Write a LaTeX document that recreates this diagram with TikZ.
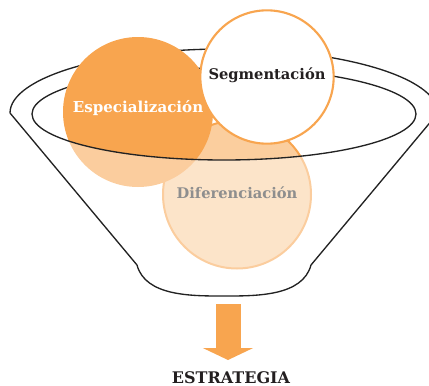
\documentclass[tikz,border=0pt]{standalone}
\usepackage{fontspec}
\setmainfont{DejaVu Serif}
\usetikzlibrary{arrows.meta}
\definecolor{orangeA}{HTML}{F8A54F}
\definecolor{orangeL}{HTML}{FBCE9E}
\definecolor{grayT}{HTML}{8E8E8E}
\definecolor{inkT}{HTML}{231F20}
\definecolor{lineK}{HTML}{222222}
\begin{document}
\begin{tikzpicture}[x=0.75pt,y=-0.75pt,
  funnelline/.style={draw=lineK, line width=1pt},
  ball/.style={circle, inner sep=0pt, outer sep=0pt},
  lbl/.style={font=\bfseries\fontsize{11}{13}\selectfont, inner sep=0pt}]
\useasboundingbox (0,0) rectangle (429,386);
\clip (0,0) rectangle (429,386);
% back rims
\draw[funnelline] (10,113) arc[start angle=180, end angle=360, x radius=214, y radius=64];
\draw[funnelline] (32,114) arc[start angle=180, end angle=360, x radius=192, y radius=46];
% circles
\node[ball, fill=orangeL, draw=orangeA, line width=1.5pt, minimum size=111pt] (dif) at (237,194.5) {};
\node[ball, fill=orangeA, minimum size=112.5pt] (esp) at (138,112) {};
% translucent front of the funnel
\fill[white, opacity=0.45] (32,114) arc[start angle=180, end angle=0, x radius=192, y radius=46] -- (430,300) -- (0,300) -- (0,114) -- cycle;
\node[ball, fill=white, draw=orangeA, line width=1.6pt, minimum size=100pt] (seg) at (267,77) {};
% front rim and body
\draw[funnelline] (32,114) arc[start angle=180, end angle=0, x radius=192, y radius=46];
\draw[funnelline] (10,113) -- (137,265) to[out=-75, in=180, looseness=0.9] (224,296) to[out=0, in=-105, looseness=0.9] (311,265) -- (438,113);
% labels
\node[lbl, text=white, font=\bfseries\fontsize{11.3}{13}\selectfont] (tesp) at (138,108) {Especialización};
\node[lbl, text=inkT] (tseg) at (267,75) {Segmentación};
\node[lbl, text=grayT] (tdif) at (237,193) {Diferenciación};
% arrow
\coordinate (astart) at (228,304);
\coordinate (atip) at (228,360);
\draw[orangeA, line width=18.75pt, -{Triangle[width=37.5pt,length=9pt]}] (astart) -- (atip);
\node[font=\bfseries\fontsize{12}{14}\selectfont, text=inkT, inner sep=0pt] (strat) at (231,377.5) {ESTRATEGIA};
\end{tikzpicture}
\end{document}
